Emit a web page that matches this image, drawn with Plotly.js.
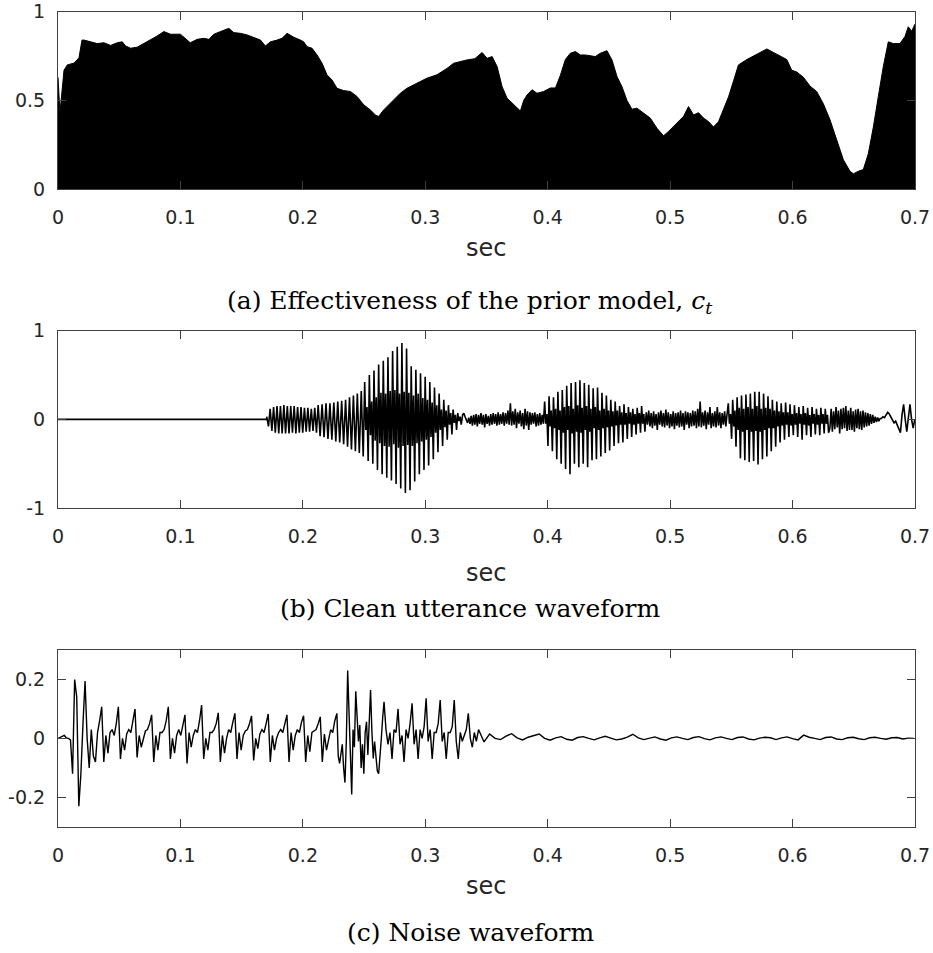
<!DOCTYPE html>
<html>
<head>
<meta charset="utf-8">
<script src="https://cdn.plot.ly/plotly-3.0.1.min.js"></script>
<style>html,body{margin:0;padding:0;background:#fff}#chart{width:933px;height:953px}</style>
</head>
<body>
<div id="chart"></div>
<script>
// ---------- (a) Effectiveness of the prior model c_t ----------
const ctTime = [0,0.0016,0.0049,0.0076,0.0131,0.0171,0.0196,0.0212,0.0267,0.0321,
0.0375,0.043,0.0484,0.0525,0.0552,0.0593,0.0647,0.0702,0.0756,0.081,
0.0865,0.0919,0.1,0.104,0.108,0.1137,0.1191,0.1232,0.1273,0.1327,
0.1395,0.1436,0.149,0.1545,0.16,0.1654,0.1694,0.1735,0.179,0.183,
0.1871,0.1926,0.198,0.2007,0.2034,0.2075,0.2116,0.2157,0.2197,0.2238,
0.2279,0.2333,0.2388,0.2442,0.2497,0.2551,0.2592,0.2619,0.266,0.2714,
0.2796,0.285,0.2932,0.3013,0.3095,0.3177,0.3231,0.3285,0.334,0.3405,
0.3464,0.3505,0.3546,0.3587,0.3627,0.3668,0.3723,0.3777,0.3804,0.3831,
0.3872,0.3913,0.3967,0.4022,0.4063,0.4103,0.4144,0.4185,0.4226,0.4267,
0.4307,0.4348,0.4389,0.443,0.4484,0.4525,0.4566,0.4606,0.4647,0.4688,
0.4729,0.4783,0.4838,0.4892,0.4946,0.4987,0.5055,0.511,0.515,0.5191,
0.5232,0.5273,0.5314,0.5354,0.5395,0.5436,0.5477,0.5518,0.5558,0.5626,
0.5681,0.5735,0.579,0.5844,0.5898,0.5953,0.5993,0.6034,0.6089,0.6143,
0.6197,0.6252,0.6306,0.6361,0.6415,0.6469,0.6497,0.6537,0.6578,0.6619,
0.666,0.67,0.6741,0.6782,0.6823,0.6877,0.6918,0.6945,0.6973,0.7];
const ctValue = [0.63,0.43,0.67,0.70,0.71,0.74,0.84,0.84,0.83,0.82,
0.825,0.81,0.825,0.83,0.807,0.794,0.80,0.82,0.84,0.863,
0.888,0.873,0.873,0.85,0.825,0.844,0.85,0.844,0.873,0.888,
0.906,0.882,0.878,0.869,0.856,0.84,0.807,0.83,0.84,0.85,
0.878,0.856,0.84,0.83,0.803,0.794,0.756,0.709,0.644,0.615,
0.568,0.555,0.55,0.522,0.475,0.446,0.418,0.409,0.446,0.484,
0.54,0.568,0.597,0.625,0.644,0.68,0.709,0.719,0.728,0.735,
0.77,0.737,0.747,0.69,0.578,0.512,0.475,0.44,0.50,0.53,
0.56,0.54,0.55,0.57,0.57,0.64,0.73,0.766,0.775,0.756,
0.756,0.75,0.747,0.766,0.78,0.728,0.634,0.578,0.50,0.45,
0.456,0.428,0.40,0.343,0.30,0.325,0.37,0.41,0.465,0.418,
0.43,0.40,0.38,0.35,0.38,0.45,0.52,0.61,0.70,0.73,
0.75,0.77,0.79,0.77,0.75,0.73,0.67,0.66,0.63,0.58,
0.55,0.48,0.39,0.28,0.165,0.10,0.086,0.10,0.11,0.20,
0.35,0.52,0.69,0.83,0.82,0.82,0.86,0.915,0.89,0.93];

// ---------- (b) Clean utterance waveform ----------
const cleanSilenceTime = [0, 0.1705];
const cleanSilenceValue = [0, 0];
const cleanSegStart = [0.1705, 0.2141, 0.2505, 0.3305, 0.3975, 0.4805, 0.5475, 0.6305, 0.6725];
const cleanSegStep  = [0.0014, 0.0016, 0.00095, 0.001, 0.0009, 0.001, 0.0009, 0.001, 0.0013];
const cleanSeg1 = [0.03,-0.08,0.12,-0.13,0.14,-0.15,0.15,-0.16,0.15,-0.16,0.16,-0.16,0.15,-0.16,0.15,-0.15,
0.15,-0.16,0.14,-0.15,0.14,-0.15,0.13,-0.14,0.13,-0.14,0.12,-0.13,0.13,-0.15,0.16];
const cleanSeg2 = [-0.19,0.17,-0.2,0.18,-0.22,0.18,-0.23,0.19,-0.25,0.2,-0.26,0.21,-0.28,0.22,-0.31,0.25,
-0.34,0.27,-0.36,0.29,-0.38,0.32,-0.42];
const cleanSeg3 = [0.42,-0.12,0.14,-0.47, 0.5,-0.18,0.2,-0.5, 0.55,-0.24,0.25,-0.57, 0.62,-0.27,0.3,-0.62,
0.66,-0.3,0.29,-0.66, 0.7,-0.31,0.32,-0.69, 0.77,-0.28,0.33,-0.73, 0.82,-0.32,0.29,-0.78,
0.86,-0.3,0.31,-0.83, 0.8,-0.29,0.3,-0.8, 0.6,-0.3,0.27,-0.7, 0.56,-0.27,0.29,-0.62,
0.52,-0.25,0.24,-0.57, 0.48,-0.23,0.22,-0.52, 0.42,-0.2,0.19,-0.45, 0.36,-0.15,0.16,-0.37,
0.29,-0.12,0.11,-0.3, 0.22,-0.09,0.1,-0.23, 0.16,-0.06,0.07,-0.17, 0.11,-0.04,0.05,-0.12,
0.07,-0.02,0.03,-0.06];
const cleanSeg4 = [0.05,0.07,0.03,-0.01,-0.04,0.02,-0.05,0.04,-0.07,0.05,
-0.06,0.06,-0.08,0.05,-0.05,0.07,-0.06,0.05,-0.09,0.06,
-0.05,0.04,-0.07,0.06,-0.06,0.07,-0.05,0.06,-0.07,0.08,
-0.06,0.06,-0.05,0.08,-0.07,0.07,-0.05,0.1,-0.06,0.18,
-0.07,0.09,-0.06,0.12,-0.1,0.08,-0.05,0.1,-0.08,0.07,
-0.11,0.12,-0.07,0.09,-0.12,0.08,-0.06,0.07,-0.05,0.08,
-0.08,0.06,-0.07,0.07,-0.06,0.05,-0.05];
const cleanSeg5 = [0.2,-0.05,0.06,-0.3, 0.26,-0.08,0.1,-0.36, 0.25,-0.1,0.12,-0.45, 0.31,-0.12,0.1,-0.5,
0.33,-0.15,0.14,-0.56, 0.38,-0.12,0.15,-0.62, 0.41,-0.16,0.12,-0.5, 0.42,-0.14,0.16,-0.54,
0.44,-0.15,0.13,-0.5, 0.41,-0.12,0.15,-0.54, 0.39,-0.14,0.12,-0.46, 0.35,-0.1,0.14,-0.45,
0.36,-0.12,0.1,-0.42, 0.3,-0.1,0.12,-0.38, 0.27,-0.09,0.1,-0.35, 0.22,-0.08,0.09,-0.3,
0.2,-0.07,0.1,-0.27, 0.15,-0.06,0.08,-0.26, 0.17,-0.06,0.07,-0.22, 0.14,-0.05,0.08,-0.2,
0.12,-0.06,0.06,-0.17, 0.13,-0.05,0.07,-0.15, 0.15,-0.05,0.06,-0.14];
const cleanSeg6 = [0.08,-0.06,0.1,-0.08,0.07,-0.1,0.09,-0.07,0.06,-0.12,
0.08,-0.06,0.1,-0.08,0.07,-0.09,0.11,-0.07,0.08,-0.1,
0.06,-0.08,0.09,-0.11,0.07,-0.07,0.08,-0.09,0.1,-0.08,
0.07,-0.12,0.09,-0.06,0.08,-0.1,0.07,-0.08,0.1,-0.07,
0.09,-0.1,0.12,-0.08,0.2,-0.09,0.08,-0.07,0.1,-0.11,
0.08,-0.06,0.14,-0.1,0.07,-0.08,0.09,-0.09,0.14,-0.07,
0.08,-0.1,0.07,-0.06,0.09,-0.08,0.06];
const cleanSeg7 = [0.18,-0.05,0.06,-0.22, 0.22,-0.08,0.1,-0.31, 0.25,-0.12,0.13,-0.44, 0.27,-0.14,0.12,-0.46,
0.28,-0.12,0.14,-0.48, 0.29,-0.14,0.12,-0.47, 0.31,-0.13,0.15,-0.51, 0.31,-0.14,0.12,-0.45,
0.29,-0.12,0.13,-0.42, 0.26,-0.1,0.12,-0.36, 0.22,-0.1,0.1,-0.31, 0.2,-0.08,0.09,-0.26,
0.18,-0.07,0.08,-0.23, 0.19,-0.06,0.08,-0.2, 0.17,-0.07,0.06,-0.18, 0.16,-0.06,0.07,-0.2,
0.14,-0.05,0.06,-0.23, 0.15,-0.06,0.07,-0.18, 0.13,-0.07,0.05,-0.2, 0.14,-0.05,0.06,-0.17,
0.12,-0.06,0.05,-0.18, 0.13,-0.05,0.06,-0.16, 0.12,-0.05,0.05,-0.15];
const cleanSeg8 = [-0.1,0.12,-0.14,0.09,-0.11,0.14,-0.09,0.1,-0.16,0.12,
-0.11,0.13,-0.1,0.15,-0.13,0.1,-0.12,0.13,-0.12,0.09,
-0.14,0.11,-0.1,0.12,-0.11,0.09,-0.12,0.1,-0.09,0.08,
-0.08,0.07,-0.07,0.06,-0.05,0.05,-0.04,0.03,-0.03,0.02,-0.02,0.01];
const cleanSeg9 = [0.01,0.03,0.02,0.05,0.08,0.06,0.02,-0.02,-0.04,-0.02,-0.06,-0.12,-0.15,0.05,0.17,0.0,
-0.14,0.02,0.17,0.0,-0.1,0.0];
const cleanSegValues = [cleanSeg1, cleanSeg2, cleanSeg3, cleanSeg4, cleanSeg5, cleanSeg6, cleanSeg7, cleanSeg8, cleanSeg9];

// ---------- (c) Noise waveform ----------
const noiseSegStart = [0, 0.2289, 0.2679, 0.3435];
const noiseSegStep  = [0.0017, 0.0011, 0.00164, 0.0045];
const noiseSeg1 = [0,0.003,0.005,0.01,0.002,0,-0.005,-0.12,0.2,0.14,-0.23,-0.12,0.05,0.195,0.0,-0.1,0.03,-0.06,-0.08,0.02,0.06,
0.107,-0.08,0.01,-0.05,0.02,0.03,0.01,0.05,
0.107,-0.07,0.0,-0.04,0.015,0.03,0.02,0.06,
0.1,-0.065,0.01,-0.03,0.0,0.025,0.03,0.05,
0.08,-0.08,0.01,-0.04,0.02,0.02,0.03,0.06,
0.107,-0.07,0.0,-0.05,0.01,0.03,0.01,0.05,
0.08,-0.085,0.02,-0.03,0.01,0.03,0.02,0.06,
0.113,-0.07,0.0,-0.04,0.02,0.02,0.03,0.05,
0.087,-0.08,0.01,-0.05,0.0,0.03,0.02,0.055,
0.085,-0.07,0.02,-0.04,0.01,0.025,0.03,0.05,
0.076,-0.075,0.0,-0.035,0.015,0.03,0.02,0.05,
0.083,-0.08,0.01,-0.04,0.0,0.02,0.03,0.02,0.05,
0.08,-0.08,0.02,-0.04,0.01,0.03,0.02,0.055,
0.077,-0.08,0.01,-0.045,0.02,0.025,0.03,0.05,
0.073,-0.08,0.015,-0.04,0.0,0.03,0.02,0.06,
0.085];
const noiseSeg2 = [-0.06,-0.085,-0.04,-0.02,-0.1,-0.15,-0.01,0.23,0.09,-0.08,-0.19,0.03,-0.03,0.16,0.05,-0.01,0.045,
-0.1,-0.02,-0.12,0.02,0.056,-0.056,0.08,0.164,0.023,-0.068,-0.011,-0.06,-0.11,-0.12,-0.04,0.0,0.07,0.124];
const noiseSeg3 = [0.03,-0.02,0.02,-0.07,0.03,0.02,0.10,-0.02,0.01,-0.08,0.03,0.0,0.05,0.119,-0.02,0.03,-0.07,0.03,
0.0,0.04,0.136,-0.01,0.03,-0.07,0.02,0.02,0.05,0.13,-0.01,0.02,-0.07,0.02,0.02,0.04,0.13,-0.01,-0.07,0.02,
-0.01,0.01,0.03,0.085,0.0,-0.03,0.02,-0.01];
const noiseSeg4 = [0.03,-0.012,0.015,0.0,-0.004,0.008,0.016,0.002,-0.005,0.004,
0.01,0.015,0.0,-0.006,0.002,0.006,-0.003,-0.006,0.003,0.006,
0.0,-0.005,0.002,0.007,0.001,-0.005,-0.002,0.004,0.014,0.002,
-0.004,0.001,0.005,-0.002,-0.006,0.002,0.005,0.0,-0.004,0.003,
0.006,-0.001,-0.005,0.002,0.005,0.0,-0.004,0.003,0.005,-0.002,
-0.005,0.001,0.004,0.002,-0.004,0.002,0.005,-0.001,-0.005,0.011,
0.004,0.0,-0.004,0.003,0.005,-0.002,-0.004,0.002,0.004,-0.001,
-0.004,0.002,0.004,0.0,-0.003,0.002,0.003,-0.002,0.001,0.0];
const noiseSegValues = [noiseSeg1, noiseSeg2, noiseSeg3, noiseSeg4];

// ---------- axis labels ----------
const xTickVals = [0,0.1,0.2,0.3,0.4,0.5,0.6,0.7];
const xTickText = ["0","0.1","0.2","0.3","0.4","0.5","0.6","0.7"];
const y1TickVals = [0,0.5,1], y1TickText = ["0","0.5","1"];
const y2TickVals = [-1,0,1], y2TickText = ["-1","0","1"];
const y3TickVals = [-0.2,0,0.2], y3TickText = ["-0.2","0","0.2"];
const xTitle = "sec";
const captions = ["(a) Effectiveness of the prior model, <i>c</i><sub><i>t</i></sub>",
                  "(b) Clean utterance waveform",
                  "(c) Noise waveform"];

// ---------- build: join the sampled segments into one continuous series ----------
function joinSegments(starts, steps, valueLists, headX, headY) {
  const x = headX.slice(), y = headY.slice();
  valueLists.forEach((vals, k) => vals.forEach((v, i) => { x.push(starts[k] + i * steps[k]); y.push(v); }));
  return {x, y};
}
const clean = joinSegments(cleanSegStart, cleanSegStep, cleanSegValues, cleanSilenceTime, cleanSilenceValue);
const noise = joinSegments(noiseSegStart, noiseSegStep, noiseSegValues, [], []);

const traces = [
  {x: ctTime, y: ctValue, type: 'scatter', mode: 'lines', fill: 'tozeroy',
   fillcolor: '#000', line: {color: '#000', width: 1}, xaxis: 'x', yaxis: 'y'},
  {x: clean.x, y: clean.y, type: 'scatter', mode: 'lines',
   line: {color: '#000', width: 1.6}, xaxis: 'x2', yaxis: 'y2'},
  {x: noise.x, y: noise.y, type: 'scatter', mode: 'lines',
   line: {color: '#000', width: 1.4}, xaxis: 'x3', yaxis: 'y3'}
];

const H = 953, W = 933, L = 57.5, R = 18;
const py = p => (H - p) / H;
const tickFont = {family: 'DejaVu Sans, sans-serif', size: 19, color: '#262626'};
function xAxis(anchor) {
  return {anchor: anchor, range: [0, 0.7], tickmode: 'array', tickvals: xTickVals, ticktext: xTickText,
    ticks: 'inside', ticklen: 8, tickcolor: '#404040', tickwidth: 1, showline: true, linecolor: '#404040',
    linewidth: 1, mirror: 'ticks', showgrid: false, zeroline: false, tickfont: tickFont,
    ticklabelstandoff: 11, domain: [0, 1]};
}
function yAxis(anchor, range, tv, tt, dom) {
  return {anchor: anchor, range: range, tickmode: 'array', tickvals: tv, ticktext: tt,
    ticks: 'inside', ticklen: 8, tickcolor: '#404040', tickwidth: 1, showline: true, linecolor: '#404040',
    linewidth: 1, mirror: 'ticks', showgrid: false, zeroline: false, tickfont: tickFont,
    ticklabelstandoff: 8, domain: dom};
}
const secFont = {family: 'DejaVu Sans, sans-serif', size: 24, color: '#262626'};
const capFont = {family: 'DejaVu Serif, serif', size: 25, color: '#000'};
const secX = (486 - L) / (W - L - R);
const capX = (470 - L) / (W - L - R);
const layout = {
  width: W, height: H, margin: {l: L, r: R, t: 0, b: 0}, showlegend: false,
  paper_bgcolor: '#fff', plot_bgcolor: '#fff',
  xaxis: xAxis('y'), yaxis: yAxis('x', [0, 1], y1TickVals, y1TickText, [py(189), py(11.7)]),
  xaxis2: xAxis('y2'), yaxis2: yAxis('x2', [-1, 1], y2TickVals, y2TickText, [py(508), py(330.7)]),
  xaxis3: xAxis('y3'), yaxis3: yAxis('x3', [-0.3, 0.3], y3TickVals, y3TickText, [py(826.8), py(650)]),
  annotations: [
    {text: xTitle, xref: 'paper', yref: 'paper', x: secX, y: py(248), showarrow: false, font: secFont, yanchor: 'middle'},
    {text: xTitle, xref: 'paper', yref: 'paper', x: secX, y: py(573), showarrow: false, font: secFont, yanchor: 'middle'},
    {text: xTitle, xref: 'paper', yref: 'paper', x: secX, y: py(886), showarrow: false, font: secFont, yanchor: 'middle'},
    {text: captions[0], xref: 'paper', yref: 'paper', x: capX, y: py(302), showarrow: false, font: capFont, yanchor: 'middle'},
    {text: captions[1], xref: 'paper', yref: 'paper', x: capX, y: py(608), showarrow: false, font: capFont, yanchor: 'middle'},
    {text: captions[2], xref: 'paper', yref: 'paper', x: capX, y: py(932), showarrow: false, font: capFont, yanchor: 'middle'}
  ]
};
Plotly.newPlot('chart', traces, layout, {staticPlot: true, displayModeBar: false});
</script>
</body>
</html>
